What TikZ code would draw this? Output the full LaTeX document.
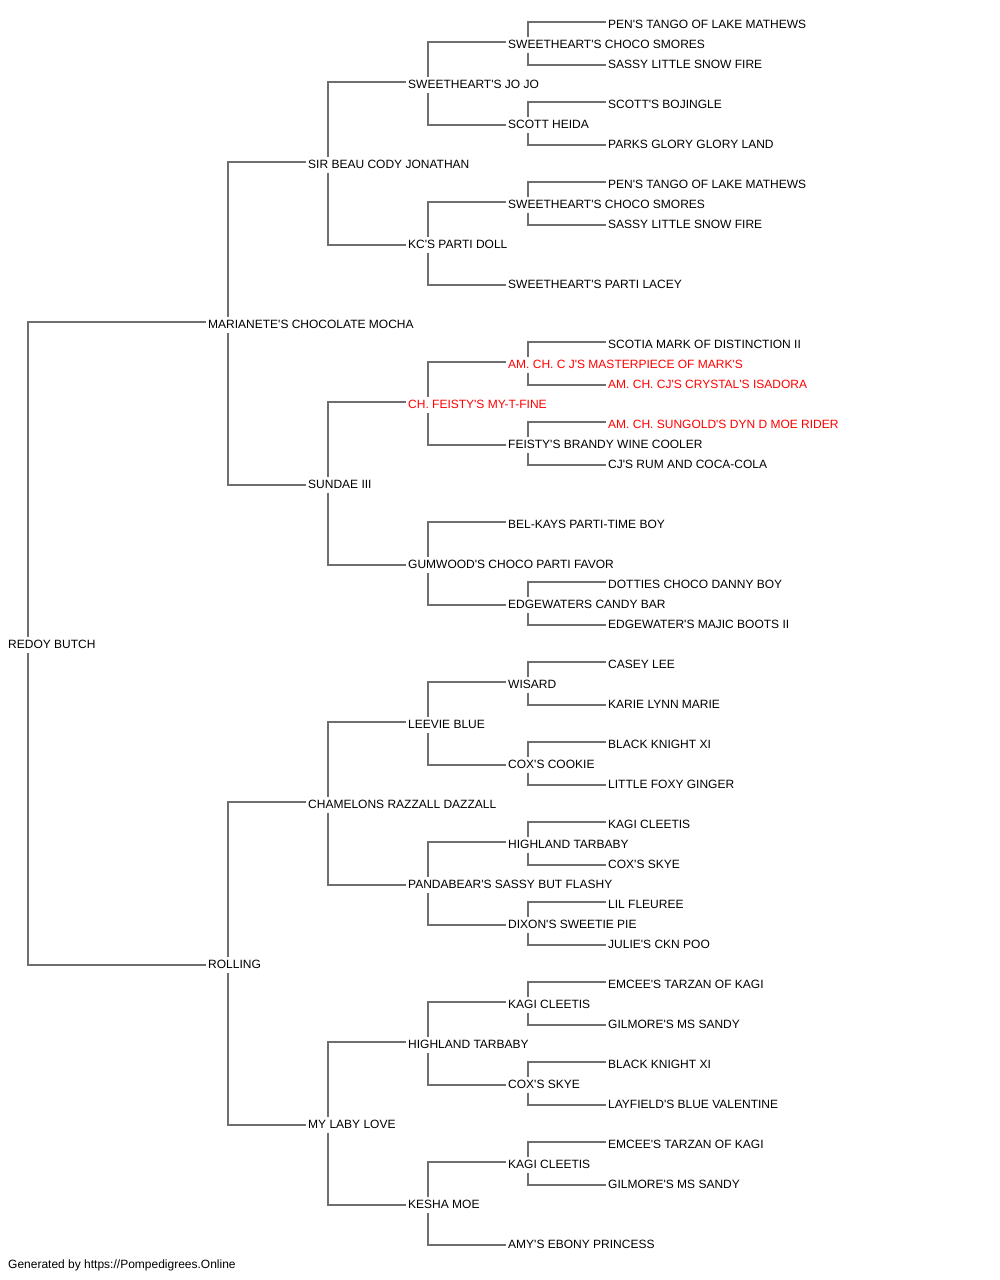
\documentclass[tikz,border=0pt]{standalone}
\usepackage{fontspec}
\setmainfont{Liberation Sans}[Ligatures=TeXOff]
\definecolor{linkgray}{RGB}{110,110,110}
\definecolor{champ}{RGB}{255,0,0}
\tikzset{
  dog/.style = {
    anchor=west, inner xsep=0pt, inner ysep=3pt,
    text height=8.6pt, text depth=0pt,
    font=\fontsize{12}{14}\selectfont
  },
  link/.style = {draw=linkgray, line width=1.3pt}
}

\begin{document}
\begin{tikzpicture}[x=1pt,y=-1pt]
  \useasboundingbox (0,0) rectangle (1000,1280);
  % generations 0 to 2
  \node[dog] (a) at (8,644) {REDOY BUTCH};
  \node[dog] (b1) at (208,324) {MARIANETE'S CHOCOLATE MOCHA};
  \node[dog] (b2) at (208,964) {ROLLING};
  \foreach \k/\txt in {1/SIR BEAU CODY JONATHAN, 2/SUNDAE III,
    3/CHAMELONS RAZZALL DAZZALL, 4/MY LABY LOVE} {
    \pgfmathsetmacro{\y}{164+320*(\k-1)}
    \node[dog] (c\k) at (308,\y) {\txt};
  }
  % generation 3
  \foreach \k/\col/\txt in {1/black/SWEETHEART'S JO JO, 2/black/KC'S PARTI DOLL,
    3/champ/CH. FEISTY'S MY-T-FINE, 4/black/GUMWOOD'S CHOCO PARTI FAVOR,
    5/black/LEEVIE BLUE, 6/black/PANDABEAR'S SASSY BUT FLASHY,
    7/black/HIGHLAND TARBABY, 8/black/KESHA MOE} {
    \pgfmathsetmacro{\y}{84+160*(\k-1)}
    \node[dog,\col] (d\k) at (408,\y) {\txt};
  }
  % generation 4
  \foreach \k/\col/\txt in {1/black/SWEETHEART'S CHOCO SMORES, 2/black/SCOTT HEIDA,
    3/black/SWEETHEART'S CHOCO SMORES, 4/black/SWEETHEART'S PARTI LACEY,
    5/champ/AM. CH. C J'S MASTERPIECE OF MARK'S, 6/black/FEISTY'S BRANDY WINE COOLER,
    7/black/BEL-KAYS PARTI-TIME BOY, 8/black/EDGEWATERS CANDY BAR,
    9/black/WISARD, 10/black/COX'S COOKIE, 11/black/HIGHLAND TARBABY,
    12/black/DIXON'S SWEETIE PIE, 13/black/KAGI CLEETIS, 14/black/COX'S SKYE,
    15/black/KAGI CLEETIS, 16/black/AMY'S EBONY PRINCESS} {
    \pgfmathsetmacro{\y}{44+80*(\k-1)}
    \node[dog,\col] (e\k) at (508,\y) {\txt};
  }
  % generation 5
  \foreach \k/\col/\txt in {1/black/PEN'S TANGO OF LAKE MATHEWS,
    2/black/SASSY LITTLE SNOW FIRE, 3/black/SCOTT'S BOJINGLE,
    4/black/PARKS GLORY GLORY LAND, 5/black/PEN'S TANGO OF LAKE MATHEWS,
    6/black/SASSY LITTLE SNOW FIRE, 9/black/SCOTIA MARK OF DISTINCTION II,
    10/champ/AM. CH. CJ'S CRYSTAL'S ISADORA, 11/champ/AM. CH. SUNGOLD'S DYN D MOE RIDER,
    12/black/CJ'S RUM AND COCA-COLA, 15/black/DOTTIES CHOCO DANNY BOY,
    16/black/EDGEWATER'S MAJIC BOOTS II, 17/black/CASEY LEE,
    18/black/KARIE LYNN MARIE, 19/black/BLACK KNIGHT XI,
    20/black/LITTLE FOXY GINGER, 21/black/KAGI CLEETIS, 22/black/COX'S SKYE,
    23/black/LIL FLEUREE, 24/black/JULIE'S CKN POO,
    25/black/EMCEE'S TARZAN OF KAGI, 26/black/GILMORE'S MS SANDY,
    27/black/BLACK KNIGHT XI, 28/black/LAYFIELD'S BLUE VALENTINE,
    29/black/EMCEE'S TARZAN OF KAGI, 30/black/GILMORE'S MS SANDY} {
    \pgfmathsetmacro{\y}{24+40*(\k-1)}
    \node[dog,\col] (f\k) at (608,\y) {\txt};
  }
  % sires (upper branch)
  \foreach \p/\c in {a/b1, b1/c1, b2/c3, c1/d1, c2/d3, c3/d5, c4/d7,
    d1/e1, d2/e3, d3/e5, d4/e7, d5/e9, d6/e11, d7/e13, d8/e15,
    e1/f1, e2/f3, e3/f5, e5/f9, e6/f11, e8/f15, e9/f17, e10/f19,
    e11/f21, e12/f23, e13/f25, e14/f27, e15/f29}
    \draw[link] ([xshift=20pt]\p.north west) |- ([xshift=-2pt,yshift=2pt]\c.west);
  % dams (lower branch)
  \foreach \p/\c in {a/b2, b1/c2, b2/c4, c1/d2, c2/d4, c3/d6, c4/d8,
    d1/e2, d2/e4, d3/e6, d4/e8, d5/e10, d6/e12, d7/e14, d8/e16,
    e1/f2, e2/f4, e3/f6, e5/f10, e6/f12, e8/f16, e9/f18, e10/f20,
    e11/f22, e12/f24, e13/f26, e14/f28, e15/f30}
    \draw[link] ([xshift=20pt,yshift=-1.5pt]\p.south west) |- ([xshift=-2pt,yshift=-1pt]\c.west);
  % footer
  \node[dog] (credit) at (8,1264) {Generated by https://Pompedigrees.Online};
\end{tikzpicture}
\end{document}
